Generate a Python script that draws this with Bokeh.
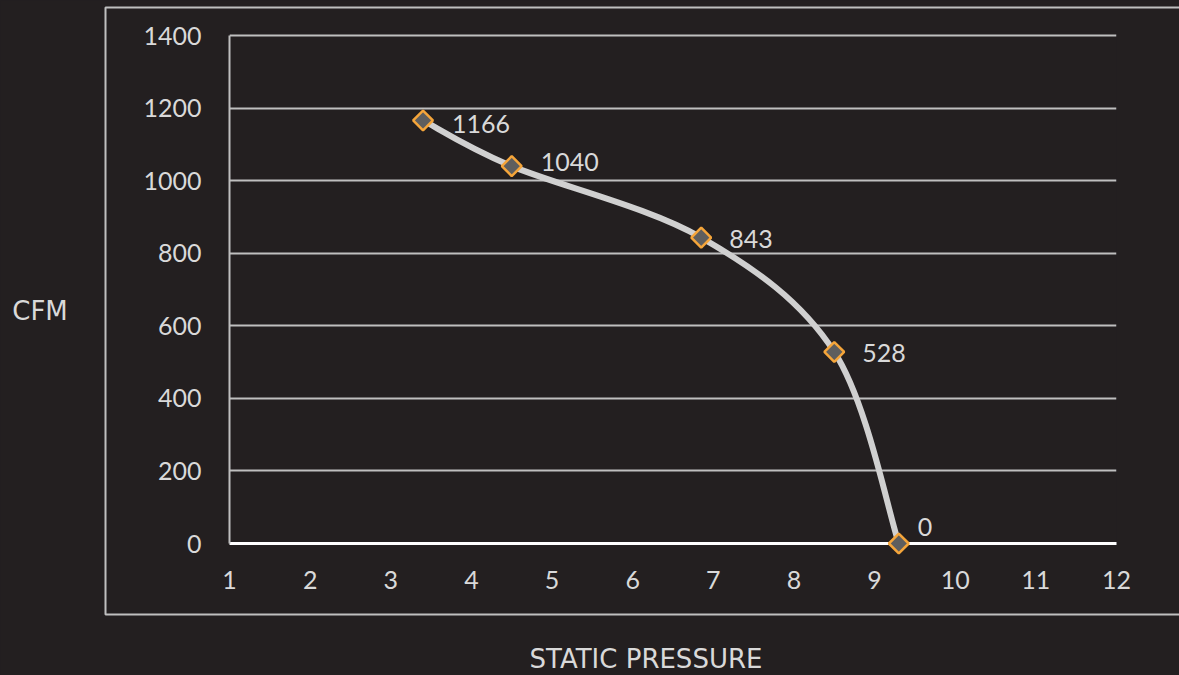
import numpy as np
from bokeh.plotting import figure
from bokeh.models import Range1d, FixedTicker, ColumnDataSource
from bokeh.core.properties import value
from bokeh.embed import file_html
from bokeh.resources import INLINE

# ---- data ----
static_pressure = [3.4, 4.5, 6.85, 8.5, 9.3]
cfm = [1166, 1040, 843, 528, 0]
point_labels = ["1166", "1040", "843", "528", "0"]
x_ticks = list(range(1, 13))
y_ticks = list(range(0, 1401, 200))
x_title = "STATIC PRESSURE"
y_title = "CFM"

# label placement (pixels, style only)
label_dx = [29, 29, 28, 28, 19]
label_dy = [4, -4, 1, 1, -17]

BG = "#231f20"
GRID = "#bfbfbf"
TXT = "#d9d9d9"
FONT = "Lato"
TITLE_FONT = "DejaVu Sans"

W, H = 1179, 675
# plot area: left edge, top edge (a few px of headroom above the top gridline), size
L, T, FW, FH = 229, 31, 887, 512
Y_TOP = 1400 * FH / 508.0   # keeps 1400 at 4px below the frame top

p = figure(width=W, height=H, output_backend="svg", toolbar_location=None,
           x_range=Range1d(1, 12), y_range=Range1d(0, Y_TOP),
           min_border_left=L, min_border_right=W - L - FW, min_border_top=T,
           min_border_bottom=H - T - FH,
           background_fill_color=BG, border_fill_color=BG, outline_line_color=None)
p.styles = {"background-color": BG}

# pixel ranges (canvas pixels) for chart decorations outside the plot area
p.extra_x_ranges = {"px": Range1d(L, L + FW)}
p.extra_y_ranges = {"px": Range1d(T + FH, T)}

# grid
p.xgrid.visible = False
p.ygrid.ticker = FixedTicker(ticks=y_ticks)
p.ygrid.grid_line_color = GRID
p.ygrid.grid_line_width = 2

# axes
p.xaxis.ticker = FixedTicker(ticks=x_ticks)
p.yaxis.ticker = FixedTicker(ticks=y_ticks)
p.yaxis.bounds = (y_ticks[0], y_ticks[-1])
for ax in (p.xaxis, p.yaxis):
    ax.major_tick_line_color = None
    ax.minor_tick_line_color = None
    ax.major_label_text_color = TXT
    ax.major_label_text_font = FONT
    ax.major_label_text_font_size = "25px"
p.xaxis.axis_line_color = "white"
p.xaxis.axis_line_width = 3
p.xaxis.major_label_standoff = 21
p.yaxis.axis_line_color = GRID
p.yaxis.axis_line_width = 2
p.yaxis.major_label_standoff = 22

# smoothed line (Catmull-Rom -> Bezier from the data points)
P = np.column_stack([static_pressure, cfm]).astype(float)
n = len(P)
x0, y0, x1, y1, cx0, cy0, cx1, cy1 = ([] for _ in range(8))
for i in range(n - 1):
    p0 = P[i - 1] if i > 0 else P[i]
    p1 = P[i]
    p2 = P[i + 1]
    p3 = P[i + 2] if i + 2 < n else P[i + 1]
    c0 = p1 + (p2 - p0) / 6.0
    c1 = p2 - (p3 - p1) / 6.0
    x0.append(p1[0]); y0.append(p1[1]); x1.append(p2[0]); y1.append(p2[1])
    cx0.append(c0[0]); cy0.append(c0[1]); cx1.append(c1[0]); cy1.append(c1[1])
p.bezier(x0=x0, y0=y0, x1=x1, y1=y1, cx0=cx0, cy0=cy0, cx1=cx1, cy1=cy1,
         line_color="#d0d0d0", line_width=6, line_cap="round")

src = ColumnDataSource(dict(x=static_pressure, y=cfm, label=point_labels,
                            dx=label_dx, dy=label_dy))
pts = p.scatter("x", "y", source=src, marker="square", angle=np.pi / 4, size=14,
                fill_color="#5e5e5e", line_color="#f5a53a", line_width=2.5)
pts.level = "overlay"
txt = p.text("x", "y", text="label", source=src, x_offset="dx", y_offset="dy",
             text_align="left", text_baseline="middle", text_color=TXT,
             text_font=value(FONT), text_font_size="25px")
txt.level = "overlay"

# outer chart-area border (canvas pixels)
box = p.quad(left=[105], right=[1260], top=[7], bottom=[614],
             x_range_name="px", y_range_name="px",
             fill_color=None, line_color=GRID, line_width=2)
box.level = "overlay"

# axis titles (canvas pixels)
t1 = p.text(x=[39.5], y=[310], text=[y_title], x_range_name="px", y_range_name="px",
            text_align="center", text_baseline="middle", text_color=TXT,
            text_font=value(TITLE_FONT), text_font_size="26px")
t1.level = "overlay"
t2 = p.text(x=[645.5], y=[658], text=[x_title], x_range_name="px", y_range_name="px",
            text_align="center", text_baseline="middle", text_color=TXT,
            text_font=value(TITLE_FONT), text_font_size="26px")
t2.level = "overlay"

open("out.html", "w").write(file_html(p, INLINE))
